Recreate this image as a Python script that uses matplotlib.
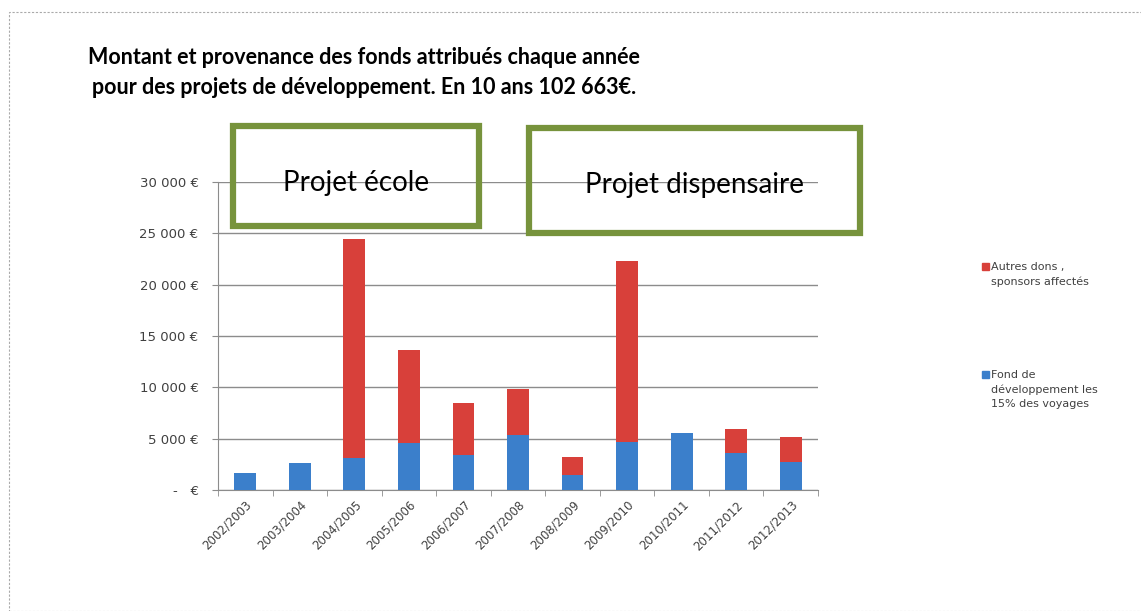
import matplotlib.pyplot as plt
from matplotlib.patches import Rectangle, FancyBboxPatch

plt.rcParams['font.family'] = ['Lato', 'DejaVu Sans']

years = ['2002/2003', '2003/2004', '2004/2005', '2005/2006', '2006/2007', '2007/2008',
         '2008/2009', '2009/2010', '2010/2011', '2011/2012', '2012/2013']
fond_dev = [1630, 2660, 3080, 4610, 3410, 5360, 1460, 4710, 5520, 3640, 2760]
autres_dons = [0, 0, 21330, 9030, 5030, 4440, 1790, 17590, 0, 2270, 2370]
yticks = [0, 5000, 10000, 15000, 20000, 25000, 30000]
ytick_labels = ['-   €', '5 000 €', '10 000 €', '15 000 €', '20 000 €', '25 000 €', '30 000 €']

blue = '#3b7fcb'
red = '#d8403a'
green = '#77933c'

fig = plt.figure(figsize=(11.41, 6.11), dpi=100)
W, H = 1141, 611

# dashed frame around the picture
fig.patches.append(Rectangle((9 / W, 0), 1.2, (611 - 12) / H, transform=fig.transFigure,
                             fill=False, ls=(0, (2, 1.5)), lw=0.8, ec='#aaaaaa'))

ax = fig.add_axes([218 / W, (611 - 490) / H, 600 / W, 308 / H])
x = range(len(years))
ax.bar(x, fond_dev, width=0.4, color=blue, zorder=3,
       label='Fond de\ndéveloppement les\n15% des voyages')
ax.bar(x, autres_dons, width=0.4, bottom=fond_dev, color=red, zorder=3,
       label='Autres dons ,\nsponsors affectés')

ax.set_xlim(-0.5, len(years) - 0.5)
ax.set_ylim(0, 30000)
ax.set_yticks(yticks)
ax.set_yticklabels(ytick_labels, fontsize=9.5, color='#404040', family='DejaVu Sans')
ax.yaxis.grid(True, color='#8c8c8c', lw=1, zorder=0)
ax.set_xticks(list(x))
ax.set_xticklabels(years, rotation=45, ha='right', rotation_mode='anchor',
                   fontsize=8.5, color='#404040', family='DejaVu Sans')
ax.set_xticks([i + 0.5 for i in range(-1, len(years))], minor=True)
ax.tick_params(axis='x', which='major', length=0, pad=6)
ax.tick_params(axis='x', which='minor', length=4, color='#8c8c8c')
ax.tick_params(axis='y', length=4, color='#8c8c8c', pad=10)
for s in ['top', 'right']:
    ax.spines[s].set_visible(False)
for s in ['left', 'bottom']:
    ax.spines[s].set_color('#8c8c8c')

# legend drawn as figure text
fig.patches.append(Rectangle((982 / W, (611 - 270) / H), 7 / W, 7 / H,
                             transform=fig.transFigure, color=red))
fig.text(991 / W, (611 - 262) / H, 'Autres dons ,\nsponsors affectés', fontsize=8,
         color='#404040', va='top', linespacing=1.5, family='DejaVu Sans')
fig.patches.append(Rectangle((982 / W, (611 - 378) / H), 7 / W, 7 / H,
                             transform=fig.transFigure, color=blue))
fig.text(991 / W, (611 - 370) / H, 'Fond de\ndéveloppement les\n15% des voyages', fontsize=8,
         color='#404040', va='top', linespacing=1.5, family='DejaVu Sans')

# title
fig.text(88 / W, (611 - 57) / H, 'Montant et provenance des fonds attribués chaque année',
         fontsize=15.5, fontweight='bold', va='center')
fig.text(92 / W, (611 - 88) / H, 'pour des projets de développement. En 10 ans 102 663€.',
         fontsize=15.5, fontweight='bold', va='center')

# project boxes
for (x0, y0, x1, y1, label) in [(233, 126, 479, 226, 'Projet école'),
                                (529, 128, 860, 233, 'Projet dispensaire')]:
    fig.patches.append(FancyBboxPatch((x0 / W, (611 - y1) / H), (x1 - x0) / W, (y1 - y0) / H,
                                      boxstyle='square,pad=0', transform=fig.transFigure,
                                      fill=False, ec=green, lw=4.5, zorder=5))
    fig.text((x0 + x1) / 2 / W, (611 - y0 - 57) / H, label, fontsize=20,
             ha='center', va='center', zorder=6)

fig.savefig('out.png', dpi=100)
